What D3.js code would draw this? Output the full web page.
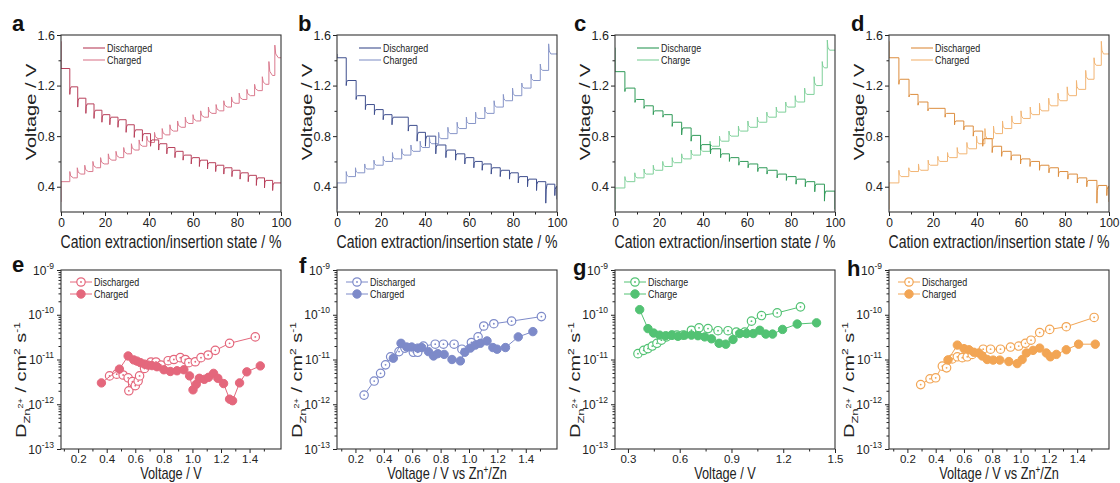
<!DOCTYPE html>
<html>
<head>
<meta charset="utf-8">
<script src="https://cdn.jsdelivr.net/npm/d3@7"></script>
<style>
  body { margin: 0; background: #fff; }
  svg { font-family: "Liberation Sans", Arial, sans-serif; }
</style>
</head>
<body>
<div id="chart"></div>
<script>
// ---- top row: GITT voltage profiles (step position %, plateau voltage, spike voltage, start/end) ----
var aDisX = [4, 7.6, 11.3, 15, 18.6, 22.2, 25.9, 29.6, 33.3, 37, 40.7, 44.4, 48.1, 51.8, 55.5, 59.2, 62.9, 66.6, 70.3, 74, 77.7, 81.4, 85.1, 88.8, 92.5, 96.2];
var aDisPlat = [1.335, 1.19, 1.10, 1.055, 1.005, 0.97, 0.95, 0.93, 0.89, 0.85, 0.82, 0.77, 0.74, 0.71, 0.68, 0.65, 0.63, 0.61, 0.59, 0.57, 0.55, 0.53, 0.51, 0.49, 0.47, 0.45, 0.43];
var aDisDip = [1.13, 1.03, 0.98, 0.94, 0.91, 0.89, 0.87, 0.83, 0.79, 0.76, 0.72, 0.69, 0.66, 0.63, 0.61, 0.58, 0.56, 0.54, 0.52, 0.50, 0.48, 0.46, 0.44, 0.41, 0.39, 0.37];
var aDisEnds = [1.55, 0.43];
var aChgX = [4, 7.4, 10.8, 14.5, 18, 21.5, 25, 28.5, 32, 35.5, 39, 42.5, 46, 49.5, 53, 56.5, 60, 63.5, 67, 70.5, 74, 77.5, 81, 84.5, 88, 91.5, 94.5, 97.2];
var aChgPlat = [0.44, 0.47, 0.50, 0.52, 0.55, 0.58, 0.61, 0.63, 0.66, 0.69, 0.72, 0.75, 0.78, 0.81, 0.84, 0.87, 0.90, 0.92, 0.95, 0.98, 1.00, 1.03, 1.06, 1.09, 1.12, 1.16, 1.21, 1.28, 1.42];
var aChgPeak = [0.52, 0.55, 0.57, 0.60, 0.63, 0.66, 0.68, 0.71, 0.74, 0.77, 0.80, 0.83, 0.86, 0.89, 0.92, 0.95, 0.97, 1.00, 1.03, 1.05, 1.08, 1.11, 1.14, 1.17, 1.21, 1.27, 1.39, 1.52];
var aChgEnds = [0.28, 1.42];

var bDisX = [4.2, 8.7, 12.9, 17, 21, 25, 32.4, 36.4, 40.2, 44.9, 49.5, 53.9, 58.1, 62.2, 66, 70.1, 74.2, 78.4, 82.4, 86.6, 90.7, 94.9, 99];
var bDisPlat = [1.42, 1.24, 1.12, 1.05, 1.01, 0.97, 0.95, 0.885, 0.83, 0.80, 0.73, 0.69, 0.66, 0.63, 0.60, 0.58, 0.55, 0.53, 0.51, 0.48, 0.46, 0.44, 0.42, 0.40];
var bDisDip = [1.20, 1.09, 1.01, 0.97, 0.93, 0.89, 0.84, 0.76, 0.72, 0.66, 0.63, 0.61, 0.58, 0.55, 0.53, 0.50, 0.48, 0.46, 0.43, 0.40, 0.37, 0.27, 0.33];
var bDisEnds = [1.45, 0.30];
var bChgX = [4.2, 8.4, 12.6, 16.8, 21, 25.2, 29.4, 33.6, 37.8, 42, 46.2, 50.4, 54.6, 58.8, 63, 67.2, 71.4, 75.6, 79.8, 84, 88.2, 92.4, 96.2];
var bChgPlat = [0.43, 0.48, 0.51, 0.54, 0.57, 0.60, 0.62, 0.65, 0.68, 0.71, 0.74, 0.78, 0.82, 0.86, 0.90, 0.94, 0.98, 1.03, 1.08, 1.12, 1.18, 1.24, 1.32, 1.45];
var bChgPeak = [0.52, 0.55, 0.58, 0.61, 0.64, 0.67, 0.70, 0.73, 0.76, 0.79, 0.83, 0.87, 0.91, 0.95, 0.99, 1.03, 1.08, 1.13, 1.18, 1.22, 1.29, 1.37, 1.53];
var bChgEnds = [0.22, 1.45];

var cDisX = [4.5, 9.1, 13.2, 17.4, 21.8, 26, 30.3, 34.6, 38.9, 43.4, 48, 52, 56.3, 60.5, 64.9, 69.1, 73.7, 77.9, 82.3, 86.5, 90.8, 95.2];
var cDisPlat = [1.31, 1.18, 1.09, 1.04, 1.0, 0.97, 0.91, 0.865, 0.806, 0.733, 0.70, 0.66, 0.63, 0.60, 0.58, 0.55, 0.53, 0.50, 0.48, 0.46, 0.44, 0.42, 0.365];
var cDisDip = [1.153, 1.067, 1.02, 0.97, 0.95, 0.877, 0.81, 0.76, 0.694, 0.66, 0.63, 0.60, 0.57, 0.55, 0.52, 0.50, 0.47, 0.45, 0.42, 0.40, 0.36, 0.286];
var cDisEnds = [1.5, 0.22];
var cChgX = [4.5, 9.0, 13.2, 17.4, 21.7, 26, 30.3, 34.6, 38.9, 43.2, 47.5, 51.8, 56.1, 60.4, 64.7, 69, 73.3, 77.6, 81.9, 86.2, 90.5, 94.2, 96.5];
var cChgPlat = [0.39, 0.44, 0.47, 0.50, 0.53, 0.56, 0.59, 0.62, 0.65, 0.68, 0.72, 0.76, 0.80, 0.84, 0.87, 0.91, 0.95, 0.99, 1.03, 1.07, 1.13, 1.20, 1.34, 1.48];
var cChgPeak = [0.48, 0.51, 0.54, 0.57, 0.60, 0.63, 0.66, 0.69, 0.72, 0.76, 0.80, 0.84, 0.88, 0.92, 0.95, 0.99, 1.03, 1.07, 1.12, 1.18, 1.27, 1.39, 1.56];
var cChgEnds = [0.22, 1.48];

var dDisX = [4.5, 9.1, 13.2, 17.7, 25.5, 29.8, 34, 38.3, 42.6, 46.9, 51.2, 55.5, 59.8, 64.1, 68.4, 72.7, 77, 81.3, 85.6, 89.9, 94.5, 99];
var dDisPlat = [1.42, 1.25, 1.13, 1.07, 1.02, 0.98, 0.92, 0.88, 0.84, 0.78, 0.72, 0.68, 0.65, 0.62, 0.60, 0.57, 0.55, 0.52, 0.50, 0.47, 0.45, 0.41, 0.40];
var dDisDip = [1.21, 1.11, 1.045, 1.0, 0.95, 0.89, 0.85, 0.80, 0.72, 0.67, 0.64, 0.61, 0.58, 0.56, 0.53, 0.51, 0.48, 0.46, 0.43, 0.40, 0.27, 0.33];
var dDisEnds = [1.55, 0.28];
var dChgX = [4.5, 9, 13.4, 17.8, 22.2, 26.6, 31, 35.4, 39.8, 43.6, 47.5, 51.6, 55.8, 60, 64.2, 68.4, 72.6, 76.8, 81, 85.2, 89.4, 93.2, 96.5];
var dChgPlat = [0.43, 0.48, 0.52, 0.53, 0.57, 0.60, 0.63, 0.66, 0.70, 0.74, 0.78, 0.82, 0.86, 0.90, 0.94, 0.97, 1.0, 1.04, 1.08, 1.12, 1.17, 1.25, 1.36, 1.45];
var dChgPeak = [0.53, 0.55, 0.58, 0.61, 0.64, 0.67, 0.71, 0.75, 0.80, 0.86, 0.88, 0.92, 0.96, 1.0, 1.03, 1.06, 1.10, 1.14, 1.19, 1.24, 1.32, 1.42, 1.55];
var dChgEnds = [0.22, 1.45];

// ---- bottom row: diffusion coefficients vs voltage ----
var eDisV = [0.42, 0.47, 0.515, 0.55, 0.555, 0.58, 0.60, 0.62, 0.63, 0.665, 0.71, 0.745, 0.78, 0.83, 0.87, 0.915, 0.95, 0.975, 1.02, 1.06, 1.11, 1.16, 1.26, 1.44];
var eDisD = [4.3e-12, 4.7e-12, 4.5e-12, 3.9e-12, 2.0e-12, 3.2e-12, 2.6e-12, 3.3e-12, 4.3e-12, 6.3e-12, 8.8e-12, 8.8e-12, 7.5e-12, 9.4e-12, 1.0e-11, 1.1e-11, 1.0e-11, 8.5e-12, 8.9e-12, 1.1e-11, 1.26e-11, 1.6e-11, 2.3e-11, 3.2e-11];
var eChgV = [0.363, 0.489, 0.55, 0.589, 0.612, 0.636, 0.664, 0.689, 0.717, 0.752, 0.80, 0.845, 0.892, 0.94, 0.98, 1.004, 1.027, 1.048, 1.083, 1.113, 1.148, 1.178, 1.218, 1.26, 1.281, 1.33, 1.381, 1.475];
var eChgD = [3.0e-12, 6.1e-12, 1.2e-11, 9.8e-12, 9.2e-12, 8.5e-12, 7.9e-12, 7.5e-12, 7.3e-12, 6.9e-12, 5.9e-12, 5.4e-12, 5.6e-12, 5.9e-12, 4.3e-12, 2.1e-12, 2.8e-12, 3.8e-12, 3.6e-12, 4.0e-12, 4.9e-12, 3.8e-12, 2.9e-12, 1.3e-12, 1.2e-12, 3.0e-12, 5.3e-12, 7.2e-12];

var fDisV = [0.261, 0.332, 0.377, 0.412, 0.448, 0.507, 0.549, 0.608, 0.639, 0.679, 0.762, 0.82, 0.895, 0.95, 1.017, 1.064, 1.104, 1.175, 1.30, 1.51];
var fDisD = [1.6e-12, 3.3e-12, 4.9e-12, 7.6e-12, 1.15e-11, 1.5e-11, 1.8e-11, 1.45e-11, 1.45e-11, 2.0e-11, 2.2e-11, 2.2e-11, 2.2e-11, 1.7e-11, 2.4e-11, 3.2e-11, 5.6e-11, 6.3e-11, 7.2e-11, 9.1e-11];
var fChgV = [0.467, 0.521, 0.561, 0.596, 0.639, 0.667, 0.714, 0.75, 0.78, 0.825, 0.88, 0.939, 0.97, 1.01, 1.045, 1.08, 1.127, 1.168, 1.198, 1.257, 1.347, 1.45];
var fChgD = [1.07e-11, 2.3e-11, 1.9e-11, 1.9e-11, 1.8e-11, 1.85e-11, 1.5e-11, 1.2e-11, 1.35e-11, 1.3e-11, 1.0e-11, 9.3e-12, 1.45e-11, 1.8e-11, 2.1e-11, 2.3e-11, 2.6e-11, 1.85e-11, 1.7e-11, 1.85e-11, 3.2e-11, 4.2e-11];

var gDisV = [0.358, 0.391, 0.416, 0.441, 0.468, 0.494, 0.523, 0.557, 0.584, 0.619, 0.668, 0.712, 0.764, 0.822, 0.88, 0.928, 0.977, 1.016, 1.074, 1.165, 1.30];
var gDisD = [1.35e-11, 1.6e-11, 1.75e-11, 2.0e-11, 2.3e-11, 2.7e-11, 3.2e-11, 3.5e-11, 3.5e-11, 3.5e-11, 4.5e-11, 5.1e-11, 4.9e-11, 4.4e-11, 4.4e-11, 4.1e-11, 4.1e-11, 7.2e-11, 9.6e-11, 1.1e-10, 1.5e-10];
var gChgV = [0.368, 0.416, 0.449, 0.484, 0.519, 0.552, 0.59, 0.629, 0.668, 0.706, 0.745, 0.784, 0.828, 0.867, 0.909, 0.948, 0.987, 1.026, 1.064, 1.099, 1.138, 1.196, 1.281, 1.393];
var gChgD = [1.3e-10, 4.9e-11, 3.9e-11, 3.5e-11, 3.4e-11, 3.5e-11, 3.3e-11, 3.5e-11, 3.5e-11, 3.4e-11, 3.2e-11, 2.9e-11, 2.3e-11, 2.2e-11, 2.8e-11, 3.8e-11, 3.8e-11, 3.8e-11, 4.5e-11, 3.7e-11, 3.7e-11, 4.7e-11, 6.2e-11, 6.6e-11];

var hDisV = [0.294, 0.36, 0.40, 0.447, 0.477, 0.517, 0.553, 0.588, 0.623, 0.658, 0.736, 0.788, 0.858, 0.929, 0.987, 1.034, 1.074, 1.135, 1.206, 1.323, 1.52];
var hDisD = [2.75e-12, 3.7e-12, 3.9e-12, 7.1e-12, 6.5e-12, 1.03e-11, 1.15e-11, 1.1e-11, 1.15e-11, 1.3e-11, 1.7e-11, 1.7e-11, 1.7e-11, 1.9e-11, 2.0e-11, 2.3e-11, 2.7e-11, 4.0e-11, 4.7e-11, 5.4e-11, 8.7e-11];
var hChgV = [0.487, 0.553, 0.60, 0.635, 0.67, 0.705, 0.729, 0.764, 0.806, 0.853, 0.917, 0.976, 1.011, 1.041, 1.088, 1.135, 1.182, 1.21, 1.253, 1.323, 1.41, 1.528];
var hChgD = [9.8e-12, 2.1e-11, 1.75e-11, 1.65e-11, 1.45e-11, 1.4e-11, 1.2e-11, 1.0e-11, 9.7e-12, 9.7e-12, 9.0e-12, 8.1e-12, 1.0e-11, 1.4e-11, 1.6e-11, 1.8e-11, 1.4e-11, 1.15e-11, 1.3e-11, 1.65e-11, 2.2e-11, 2.2e-11];

// ---- labels and ticks ----
var namesEd = ["Discharged", "Charged"];
var namesE = ["Discharge", "Charge"];
var topXTicks = [0, 20, 40, 60, 80, 100], topXMinor = [10, 30, 50, 70, 90];
var topYTicks = [0.4, 0.8, 1.2, 1.6], topYMinor = [0.6, 1.0, 1.4];
var botXTicks = [0.2, 0.4, 0.6, 0.8, 1.0, 1.2, 1.4], botXMinor = [0.1, 0.3, 0.5, 0.7, 0.9, 1.1, 1.3, 1.5];
var gXTicks = [0.3, 0.6, 0.9, 1.2, 1.5], gXMinor = [0.45, 0.75, 1.05, 1.35];
var logExps = [-13, -12, -11, -10, -9];

var W = 1120, H = 483;
var colLeft = [61, 337, 615, 889], plotW = 220;
var topY = [35, 212], botY = [270, 449];
var ink = "#222";

var svg = d3.select("#chart").append("svg")
    .attr("width", W)
    .attr("height", H);

// vertices of a stepped GITT trace: plateau, vertical spike at each step, quick hook to next plateau
function stepPoints(xs, plat, tip, ends, hook) {
  var pts = [[0, ends[0]], [0, plat[0]]];
  xs.forEach(function(x, i) {
    pts.push([x, plat[i]]);
    pts.push([x, tip[i]]);
    pts.push([x + hook * 0.25, tip[i] + (plat[i + 1] - tip[i]) * 0.7]);
    pts.push([x + hook, plat[i + 1]]);
  });
  pts.push([100, plat[plat.length - 1]]);
  pts.push([100, ends[1]]);
  return pts;
}

function styleAxis(g, size) {
  g.attr("font-size", size).attr("font-family", "Liberation Sans, Arial, sans-serif");
  g.select(".domain").remove();
  g.selectAll("line").attr("stroke", ink).attr("stroke-width", 1);
  g.selectAll("text").attr("fill", ink);
}

// text squeezed horizontally like the source figure
function squeezed(x, y, sx, rot, size) {
  return svg.append("g")
      .attr("transform", "translate(" + x + "," + y + ") scale(" + sx + ",1)" + (rot ? " rotate(" + rot + ")" : ""))
    .append("text")
      .attr("text-anchor", "middle")
      .attr("font-size", size)
      .attr("fill", ink);
}

function frame(left, yr) {
  svg.append("rect")
      .attr("x", left).attr("y", yr[0])
      .attr("width", plotW).attr("height", yr[1] - yr[0])
      .attr("fill", "none").attr("stroke", "#333").attr("stroke-width", 1.1);
}

function panelLetter(t, x, y) {
  svg.append("text").attr("x", x).attr("y", y)
      .attr("font-size", 22).attr("font-weight", "bold").attr("fill", "#111")
      .text(t);
}

// ---------------- top row ----------------
var topPanels = [
  {letter: "a", lx: 12, dis: [aDisX, aDisPlat, aDisDip, aDisEnds], chg: [aChgX, aChgPlat, aChgPeak, aChgEnds], names: namesEd, colors: ["#b8405b", "#da7a8e"], hooks: [0.6, 1.6]},
  {letter: "b", lx: 298, dis: [bDisX, bDisPlat, bDisDip, bDisEnds], chg: [bChgX, bChgPlat, bChgPeak, bChgEnds], names: namesEd, colors: ["#3f4f8e", "#8795c8"], hooks: [0.6, 1.0]},
  {letter: "c", lx: 574, dis: [cDisX, cDisPlat, cDisDip, cDisEnds], chg: [cChgX, cChgPlat, cChgPeak, cChgEnds], names: namesE, colors: ["#2f9a58", "#7fd09a"], hooks: [0.6, 1.0]},
  {letter: "d", lx: 851, dis: [dDisX, dDisPlat, dDisDip, dDisEnds], chg: [dChgX, dChgPlat, dChgPeak, dChgEnds], names: namesEd, colors: ["#dc8d3e", "#f2b574"], hooks: [0.6, 1.0]}
];

topPanels.forEach(function(p, k) {
  var left = colLeft[k];
  var x = d3.scaleLinear().domain([0, 100]).range([left, left + plotW]);
  var y = d3.scaleLinear().domain([0.2, 1.6]).range([topY[1], topY[0]]);

  svg.append("clipPath").attr("id", "clipT" + k)
    .append("rect").attr("x", left).attr("y", topY[0]).attr("width", plotW).attr("height", topY[1] - topY[0]);

  var line = d3.line()
    .x(function(d) { return x(d[0]); })
    .y(function(d) { return y(d[1]); });

  [p.chg, p.dis].forEach(function(s, j) {
    var ci = j === 0 ? 1 : 0;
    svg.append("path")
        .datum(stepPoints(s[0], s[1], s[2], s[3], p.hooks[ci]))
        .attr("d", line)
        .attr("fill", "none")
        .attr("stroke", p.colors[ci])
        .attr("stroke-width", 1)
        .attr("clip-path", "url(#clipT" + k + ")");
  });

  // axes with major and minor ticks
  var gx = svg.append("g").attr("transform", "translate(0," + topY[1] + ")")
    .call(d3.axisBottom(x).tickValues(topXTicks).tickSize(4).tickPadding(2));
  styleAxis(gx, 12);
  var gxm = svg.append("g").attr("transform", "translate(0," + topY[1] + ")")
    .call(d3.axisBottom(x).tickValues(topXMinor).tickSize(2.5).tickFormat(""));
  styleAxis(gxm, 12);
  var gy = svg.append("g").attr("transform", "translate(" + left + ",0)")
    .call(d3.axisLeft(y).tickValues(topYTicks).tickSize(4).tickPadding(2).tickFormat(d3.format(".1f")));
  styleAxis(gy, 12.5);
  var gym = svg.append("g").attr("transform", "translate(" + left + ",0)")
    .call(d3.axisLeft(y).tickValues(topYMinor).tickSize(2.5).tickFormat(""));
  styleAxis(gym, 12);
  frame(left, topY);

  // legend
  p.names.forEach(function(n, j) {
    var ly = 48 + j * 12;
    svg.append("line").attr("x1", left + 22).attr("x2", left + 44).attr("y1", ly).attr("y2", ly)
        .attr("stroke", p.colors[j]).attr("stroke-width", 1.1);
    squeezed(left + 46, ly + 3.5, 0.85, 0, 10.5).attr("text-anchor", "start").text(n);
  });

  squeezed(left + plotW / 2, 248, 0.76, 0, 18.5).text("Cation extraction/insertion state / %");
  squeezed(left - 25, 112, 0.72, -90, 20).text("Voltage / V");
  panelLetter(p.letter, p.lx, 31);
});

// ---------------- bottom row ----------------
var botPanels = [
  {letter: "e", lx: 12, ly: 272, dom: [0.08, 1.62], ticks: botXTicks, minor: botXMinor, dis: [eDisV, eDisD], chg: [eChgV, eChgD], names: namesEd, color: "#e4677c", vs: false},
  {letter: "f", lx: 299, ly: 273, dom: [0.07, 1.62], ticks: botXTicks, minor: botXMinor, dis: [fDisV, fDisD], chg: [fChgV, fChgD], names: namesEd, color: "#7d8ac9", vs: true},
  {letter: "g", lx: 573, ly: 275, dom: [0.225, 1.5], ticks: gXTicks, minor: gXMinor, dis: [gDisV, gDisD], chg: [gChgV, gChgD], names: namesE, color: "#52c273", vs: false},
  {letter: "h", lx: 847, ly: 276, dom: [0.07, 1.625], ticks: botXTicks, minor: botXMinor, dis: [hDisV, hDisD], chg: [hChgV, hChgD], names: namesEd, color: "#f2a554", vs: true}
];

var logMinor = [];
logExps.slice(0, 4).forEach(function(e) {
  for (var m = 2; m <= 9; m++) logMinor.push(m * Math.pow(10, e));
});

function marker(g, cx, cy, open, color) {
  g.append("circle").attr("cx", cx).attr("cy", cy).attr("r", 4.2)
      .attr("fill", open ? "#fff" : color)
      .attr("stroke", color).attr("stroke-width", open ? 1.2 : 1);
  if (open) {
    g.append("circle").attr("cx", cx).attr("cy", cy).attr("r", 0.9).attr("fill", color);
  }
}

botPanels.forEach(function(p, k) {
  var left = colLeft[k];
  var x = d3.scaleLinear().domain(p.dom).range([left, left + plotW]);
  var y = d3.scaleLog().domain([1e-13, 1e-9]).range([botY[1], botY[0]]);

  var line = d3.line()
    .x(function(d) { return x(d[0]); })
    .y(function(d) { return y(d[1]); });

  [p.dis, p.chg].forEach(function(s, j) {
    var pts = s[0].map(function(v, i) { return [v, s[1][i]]; });
    var g = svg.append("g");
    g.append("path").datum(pts).attr("d", line)
        .attr("fill", "none").attr("stroke", p.color).attr("stroke-width", 1);
    pts.forEach(function(d) { marker(g, x(d[0]), y(d[1]), j === 0, p.color); });
  });

  var gx = svg.append("g").attr("transform", "translate(0," + botY[1] + ")")
    .call(d3.axisBottom(x).tickValues(p.ticks).tickSize(4).tickPadding(2).tickFormat(d3.format(".1f")));
  styleAxis(gx, 11.5);
  var gxm = svg.append("g").attr("transform", "translate(0," + botY[1] + ")")
    .call(d3.axisBottom(x).tickValues(p.minor).tickSize(2.5).tickFormat(""));
  styleAxis(gxm, 12);
  var gy = svg.append("g").attr("transform", "translate(" + left + ",0)")
    .call(d3.axisLeft(y).tickValues(logExps.map(function(e) { return Math.pow(10, e); })).tickSize(4).tickFormat(""));
  styleAxis(gy, 12);
  var gym = svg.append("g").attr("transform", "translate(" + left + ",0)")
    .call(d3.axisLeft(y).tickValues(logMinor).tickSize(2.5).tickFormat(""));
  styleAxis(gym, 12);

  // 10^n tick labels
  logExps.forEach(function(e) {
    var t = svg.append("text").attr("x", left - 7).attr("y", y(Math.pow(10, e)) + 4.5)
        .attr("text-anchor", "end").attr("font-size", 12).attr("fill", ink);
    t.append("tspan").text("10");
    t.append("tspan").attr("font-size", 8.5).attr("dy", -6).text(String(e));
  });
  frame(left, botY);

  // legend with markers
  p.names.forEach(function(n, j) {
    var ly = 282 + j * 12;
    svg.append("line").attr("x1", left + 9).attr("x2", left + 31).attr("y1", ly).attr("y2", ly)
        .attr("stroke", p.color).attr("stroke-width", 1);
    marker(svg, left + 20, ly, j === 0, p.color);
    squeezed(left + 33, ly + 3.5, 0.85, 0, 10.5).attr("text-anchor", "start").text(n);
  });

  // x title
  var xt = squeezed(left + plotW / 2, 479, 0.75, 0, 17);
  if (p.vs) {
    xt.append("tspan").text("Voltage / V vs Zn");
    xt.append("tspan").attr("font-size", 11).attr("dy", -6).text("+");
    xt.append("tspan").attr("dy", 6).text("/Zn");
  } else {
    xt.text("Voltage / V");
  }

  // y title: D_Zn2+ / cm2 s-1
  var yt = squeezed(left - 35, 380, 0.72, -90, 20);
  yt.append("tspan").text("D");
  yt.append("tspan").attr("font-size", 13).attr("dy", 5).text("Zn");
  yt.append("tspan").attr("font-size", 9).attr("dy", -9).text("2+");
  yt.append("tspan").attr("dy", 4).text(" / cm");
  yt.append("tspan").attr("font-size", 12).attr("dy", -8).text("2");
  yt.append("tspan").attr("dy", 8).text(" s");
  yt.append("tspan").attr("font-size", 12).attr("dy", -8).text("-1");

  panelLetter(p.letter, p.lx, p.ly);
});
</script>
</body>
</html>
